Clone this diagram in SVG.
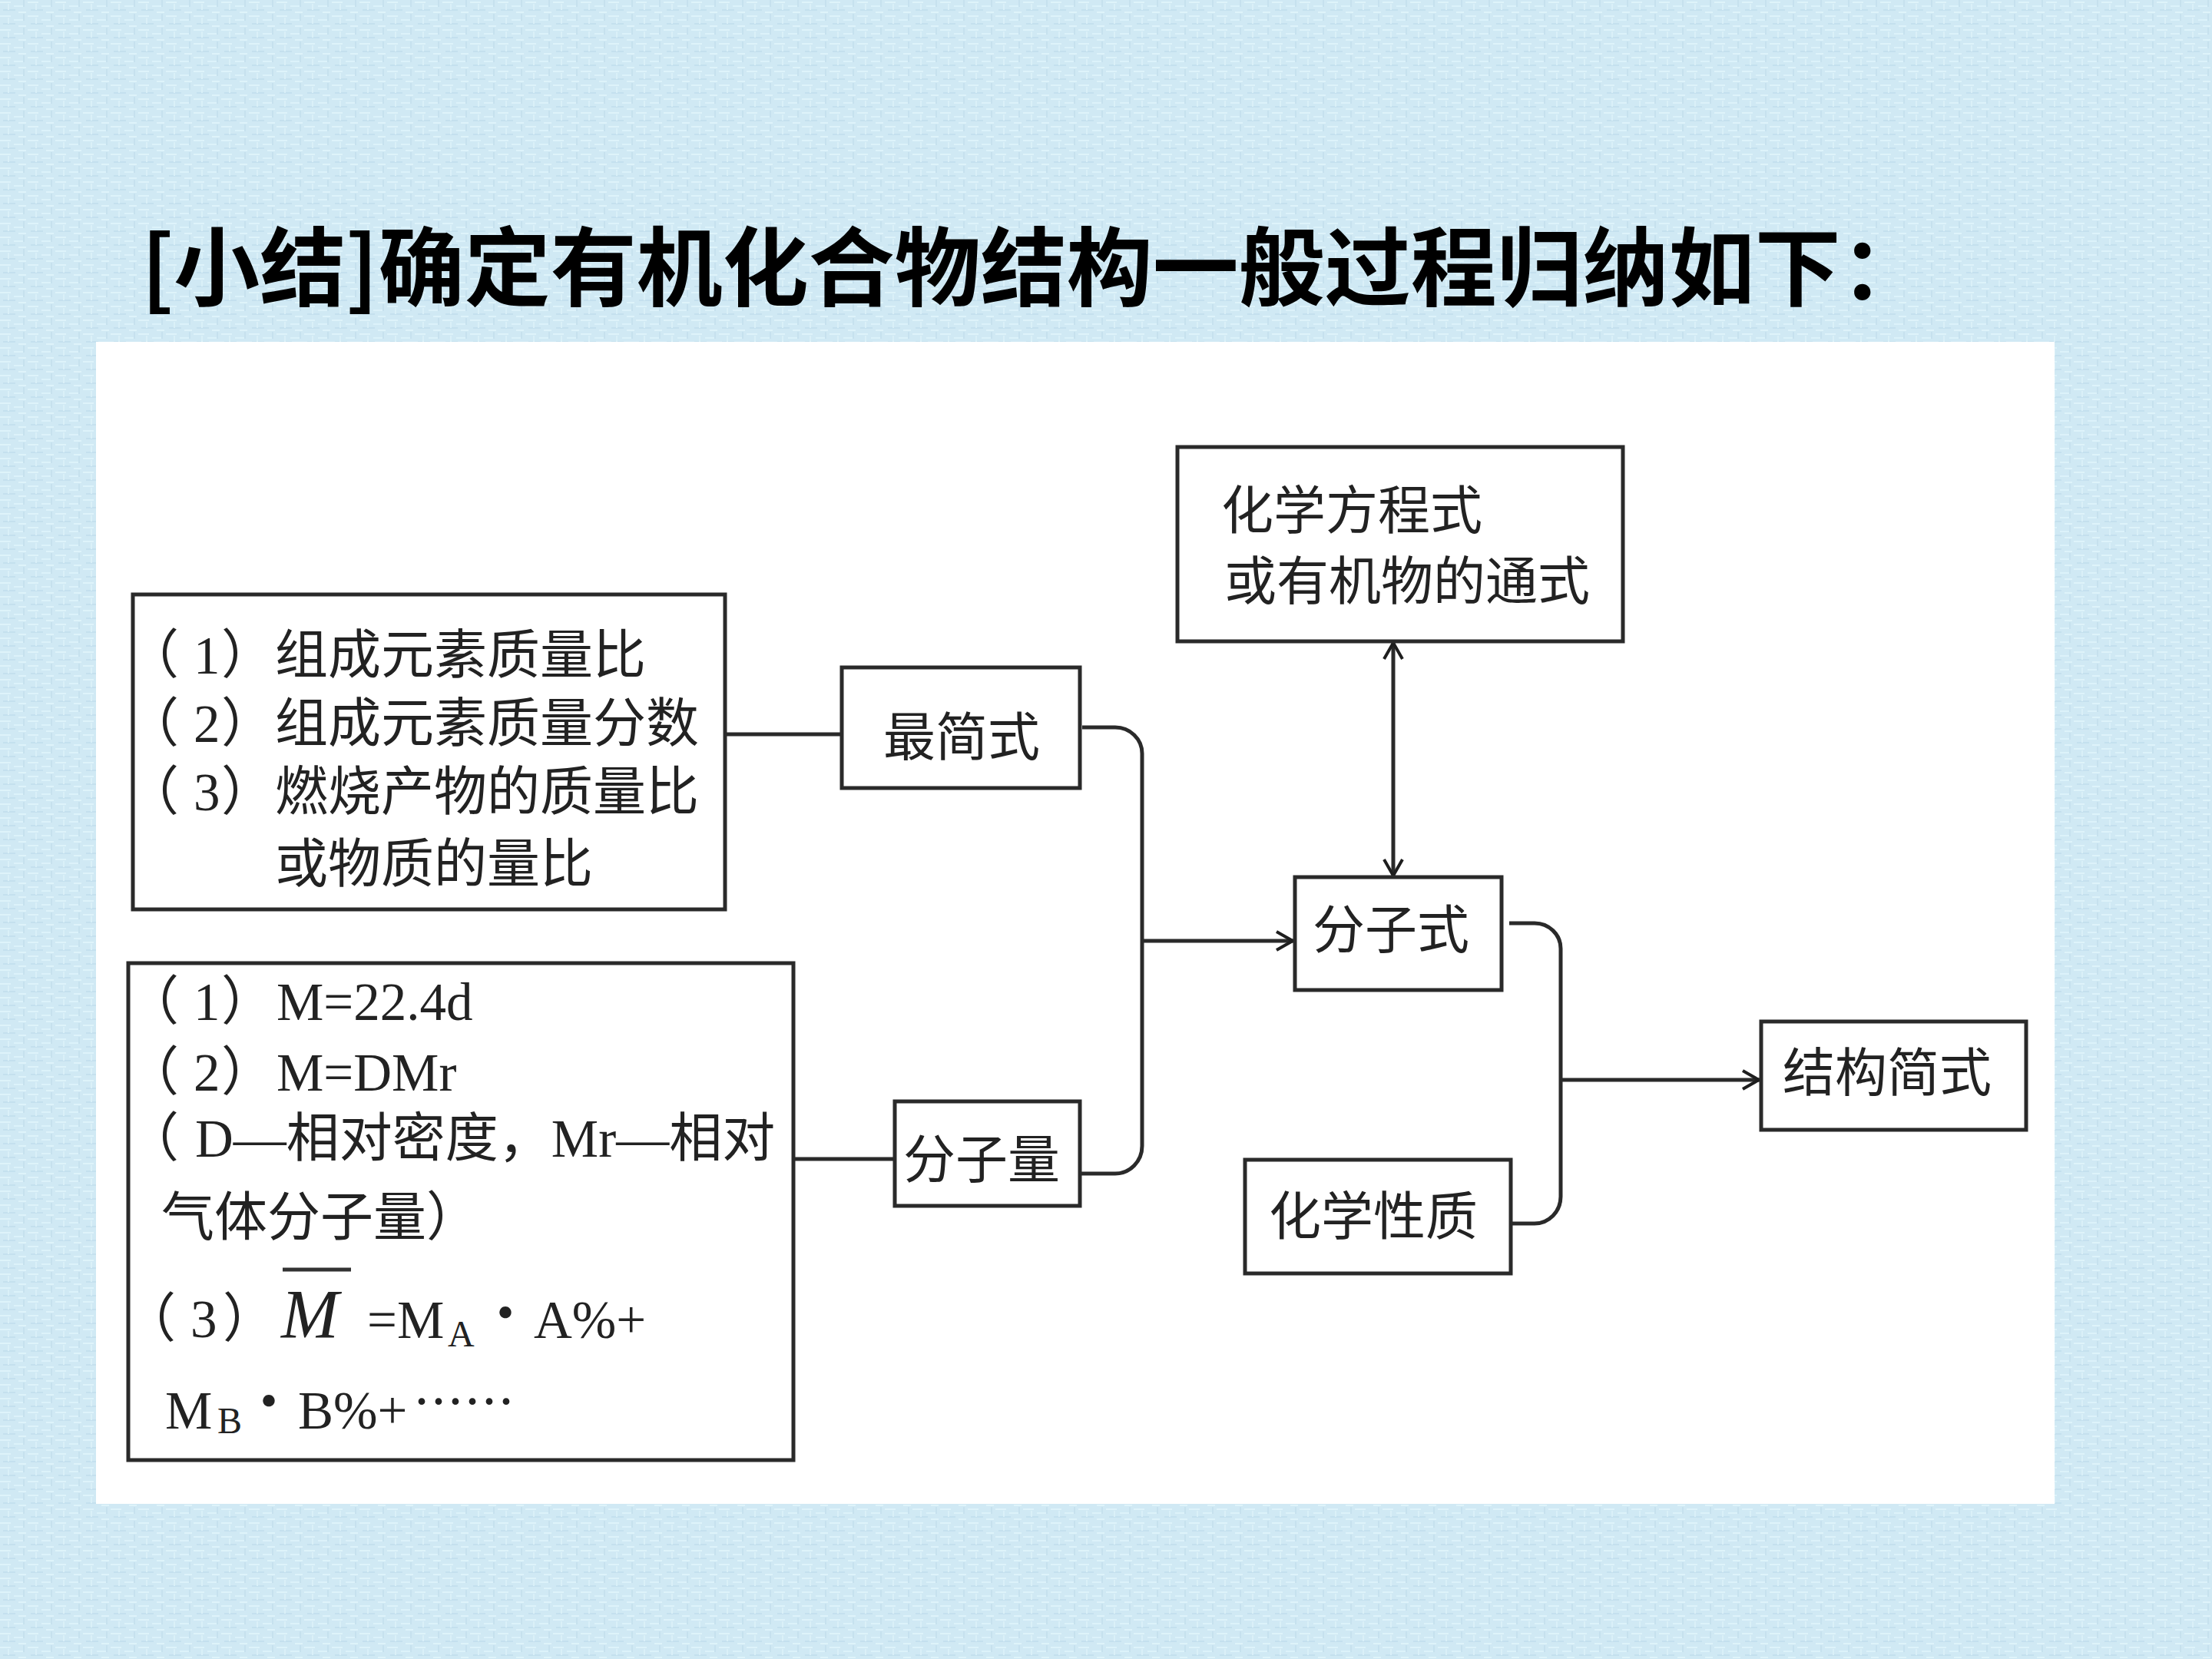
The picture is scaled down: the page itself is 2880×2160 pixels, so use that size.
<svg xmlns="http://www.w3.org/2000/svg" width="2880" height="2160" viewBox="0 0 2880 2160">
<defs>
<pattern id="tex" width="36" height="18" patternUnits="userSpaceOnUse">
<rect width="36" height="18" fill="#d0e9f4"/>
<rect x="0" y="2" width="14" height="2" fill="#def3fa"/>
<rect x="18" y="7" width="12" height="2" fill="#dcf2fa"/>
<rect x="4" y="12" width="16" height="2" fill="#c4e0ee"/>
<rect x="24" y="15" width="10" height="2" fill="#def3fa"/>
<rect x="30" y="0" width="2" height="9" fill="#c6e1ee"/>
<rect x="10" y="5" width="2" height="8" fill="#daf0f8"/>
</pattern>
<marker id="arr" viewBox="0 0 26 30" refX="25" refY="15" markerWidth="26" markerHeight="30" markerUnits="userSpaceOnUse" orient="auto-start-reverse">
<path d="M3,3 L24,15 L3,27" fill="none" stroke="#1e1e1e" stroke-width="4"/>
</marker>
<style>
.box{fill:#ffffff;stroke:#2a2a2a;stroke-width:5}
.cjk{font-family:'Noto Sans CJK SC',sans-serif;font-size:68px;fill:#222222}
.mix{font-family:'Liberation Serif','Noto Sans CJK SC',serif;font-size:69px;fill:#222222}
.sub{font-family:'Liberation Serif',serif;font-size:48px;fill:#222222}
.dot{font-family:'Noto Sans CJK SC',sans-serif;font-size:60px;font-weight:700;fill:#222222}
.conn{fill:none;stroke:#2a2a2a;stroke-width:5}
.title{font-family:'Noto Sans CJK SC',sans-serif;font-size:112px;font-weight:700;fill:#000000}
</style>
</defs>
<rect x="0" y="0" width="2880" height="2160" fill="url(#tex)"/>
<text class="title" x="184" y="390">[小结]确定有机化合物结构一般过程归纳如下：</text>
<rect x="125" y="445" width="2550" height="1513" fill="#ffffff"/>

<g id="connectors">
<path class="conn" d="M944,956 H1096"/>
<path class="conn" d="M1033,1509 H1165"/>
<path class="conn" d="M1409,947 H1452 A35,34 0 0 1 1487,981 V1492 A35,36 0 0 1 1452,1528 H1406"/>
<path class="conn" d="M1487,1225 H1684" marker-end="url(#arr)"/>
<path class="conn" d="M1965,1202 H1998 A34,33 0 0 1 2032,1235 V1558 A34,35 0 0 1 1998,1593 H1966"/>
<path class="conn" d="M2032,1406 H2291" marker-end="url(#arr)"/>
<path class="conn" d="M1814,836 V1141" marker-start="url(#arr)" marker-end="url(#arr)"/>
</g>

<g id="node-sources-1">
<rect class="box" x="173" y="774" width="771" height="410"/>
<text class="mix" y="877"><tspan x="164">（</tspan><tspan x="252">1</tspan><tspan x="288">）</tspan><tspan x="358">组成元素质量比</tspan></text>
<text class="mix" y="966"><tspan x="164">（</tspan><tspan x="252">2</tspan><tspan x="288">）</tspan><tspan x="358">组成元素质量分数</tspan></text>
<text class="mix" y="1055"><tspan x="164">（</tspan><tspan x="252">3</tspan><tspan x="288">）</tspan><tspan x="358">燃烧产物的质量比</tspan></text>
<text class="mix" x="358" y="1149">或物质的量比</text>
</g>

<g id="node-sources-2">
<rect class="box" x="167" y="1254" width="866" height="647"/>
<text class="mix" y="1328"><tspan x="164">（</tspan><tspan x="252">1</tspan><tspan x="288">）</tspan><tspan x="360">M=22.4d</tspan></text>
<text class="mix" y="1420"><tspan x="164">（</tspan><tspan x="252">2</tspan><tspan x="288">）</tspan><tspan x="360">M=DMr</tspan></text>
<text class="mix" y="1506"><tspan x="164">（</tspan><tspan x="254">D—相对密度，Mr—相对</tspan></text>
<text class="mix" x="210" y="1609">气体分子量）</text>
<text class="mix" y="1741"><tspan x="160">（</tspan><tspan x="248">3</tspan><tspan x="290">）</tspan></text>
<text class="mix" x="366" y="1742" style="font-style:italic;font-size:90px">M</text>
<line x1="368" y1="1653" x2="457" y2="1653" stroke="#333333" stroke-width="5"/>
<text class="mix" x="478" y="1742">=M</text>
<text class="sub" x="583" y="1753">A</text>
<text class="dot" x="628" y="1732">·</text>
<text class="mix" x="695" y="1742">A%+</text>
<text class="mix" x="215" y="1860">M</text>
<text class="sub" x="283" y="1866">B</text>
<text class="dot" x="320" y="1847">·</text>
<text class="mix" x="388" y="1860">B%+</text>
<text class="cjk" x="538" y="1850" style="font-size:66px">……</text>
</g>

<g id="node-zuijianshi">
<rect class="box" x="1096" y="869" width="310" height="157"/>
<text class="cjk" x="1150" y="984">最简式</text>
</g>

<g id="node-fenziliang">
<rect class="box" x="1165" y="1434" width="241" height="136"/>
<text class="cjk" x="1176" y="1534">分子量</text>
</g>

<g id="node-fangchengshi">
<rect class="box" x="1533" y="582" width="580" height="253"/>
<text class="cjk" x="1590" y="689">化学方程式</text>
<text class="cjk" x="1594" y="781">或有机物的通式</text>
</g>

<g id="node-fenzishi">
<rect class="box" x="1686" y="1142" width="269" height="147"/>
<text class="cjk" x="1709" y="1235">分子式</text>
</g>

<g id="node-huaxuexingzhi">
<rect class="box" x="1621" y="1510" width="346" height="148"/>
<text class="cjk" x="1652" y="1608">化学性质</text>
</g>

<g id="node-jiegoujianshi">
<rect class="box" x="2293" y="1330" width="345" height="141"/>
<text class="cjk" x="2321" y="1421">结构简式</text>
</g>
</svg>
